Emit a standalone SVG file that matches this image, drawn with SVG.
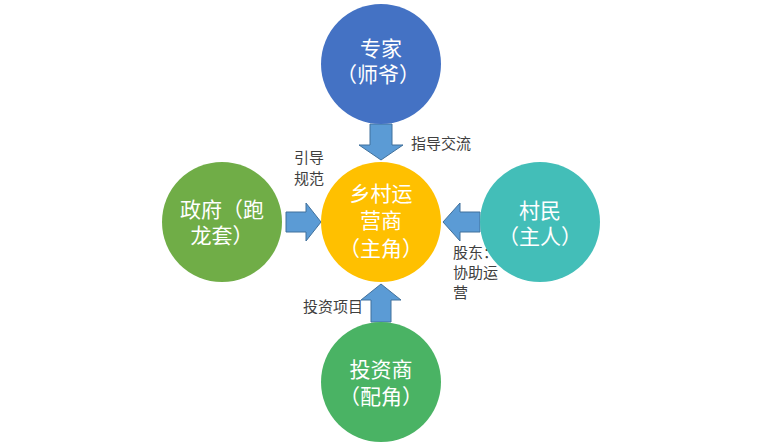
<svg xmlns="http://www.w3.org/2000/svg" width="764" height="445" viewBox="0 0 764 445">
<style>
.nt{font-family:"Noto Sans CJK SC","Liberation Sans",sans-serif;font-size:21px;fill:#fff;text-anchor:middle}
.lb{font-family:"Noto Sans CJK SC","Liberation Sans",sans-serif;font-size:15px;fill:#404040}
.ar{fill:#5B9BD5;stroke:#41719C;stroke-width:1}
</style>
<rect width="764" height="445" fill="#fff"/>
<g id="labels">
<text class="lb" x="411" y="149">指导交流</text>
<text class="lb" x="294" y="163">引导</text>
<text class="lb" x="294" y="184">规范</text>
<text class="lb" x="453" y="258">股东：</text>
<text class="lb" x="453" y="278">协助运</text>
<text class="lb" x="453" y="298">营</text>
<text class="lb" x="303" y="312">投资项目</text>
</g>
<g id="connectors">
<polygon class="ar" points="370,124 392,124 392,145 403,145 381,160 359,145 370,145"/>
<polygon class="ar" points="286,212 306,212 306,203 321,222 306,241 306,232 286,232"/>
<polygon class="ar" points="480,212 460,212 460,203 443,222 460,241 460,232 480,232"/>
<polygon class="ar" points="371,322 371,300 361,300 381,284 401,300 391,300 391,322"/>
</g>
<g id="expert">
<circle cx="381" cy="64" r="60" fill="#4472C4"/>
<text class="nt" x="381" y="56">专家</text>
<text class="nt" x="378" y="82">（师爷）</text>
</g>
<g id="operator">
<circle cx="381" cy="222" r="60" fill="#FFC000"/>
<text class="nt" x="381" y="201">乡村运</text>
<text class="nt" x="381" y="228">营商</text>
<text class="nt" x="381" y="256">（主角）</text>
</g>
<g id="government">
<circle cx="222" cy="222" r="60" fill="#70AD47"/>
<text class="nt" x="222" y="217">政府（跑</text>
<text class="nt" x="222" y="243">龙套）</text>
</g>
<g id="villagers">
<circle cx="540" cy="222" r="60" fill="#43BEB8"/>
<text class="nt" x="540" y="218">村民</text>
<text class="nt" x="540" y="244">（主人）</text>
</g>
<g id="investor">
<circle cx="381" cy="382" r="60" fill="#4AB364"/>
<text class="nt" x="381" y="377">投资商</text>
<text class="nt" x="381" y="404">（配角）</text>
</g>
</svg>
